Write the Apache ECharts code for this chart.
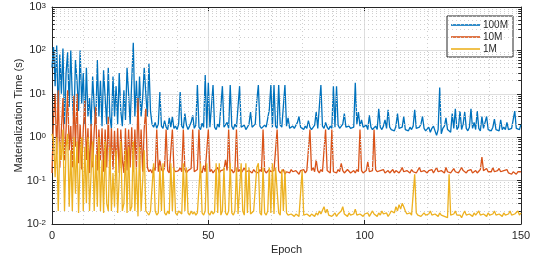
<!DOCTYPE html>
<html>
<head>
  <meta charset="utf-8">
  <title>Materialization Time</title>
  <style>
    html, body { margin: 0; padding: 0; background: #fff; }
    #chart { width: 536px; height: 261px; }
  </style>
</head>
<body>
  <div id="chart"></div>
  <script src="https://cdn.jsdelivr.net/npm/echarts@6/dist/echarts.min.js"></script>
  <script>
    // one point every half epoch, 0 .. 150
    const step = 0.5
    const seriesNames = ['100M', '10M', '1M']
    const seriesColors = ['#0072BD', '#D95319', '#EDB120']

    const t100M = [
      40, 120, 15, 130, 3, 80, 10, 110, 2, 30, 90, 5, 100, 8, 2, 60, 20, 4, 100, 6,
      30, 2, 40, 3, 8, 1.8, 25, 5, 2, 60, 3, 20, 1.8, 35, 8, 2, 40, 3, 1.6, 25,
      3, 15, 2, 30, 4, 1.8, 12, 2.5, 40, 10, 2, 20, 150, 3, 20, 2, 25, 3, 8, 40,
      10, 3, 50, 4, 2, 1.7, 2.2, 1.6, 2, 11, 1.8, 1.6, 2.4, 1.7, 1.5, 2.8, 1.7, 3, 1.6, 1.8,
      1.5, 2, 11, 1.8, 1.6, 3.5, 1.9, 1.5, 1.8, 2.2, 3.2, 1.6, 1.9, 16, 1.7, 1.5, 2.1, 1.7, 27, 1.6,
      18, 1.7, 1.6, 16, 1.7, 1.5, 2, 1.7, 1.6, 15, 1.7, 1.6, 2.2, 1.6, 16, 1.8, 1.5, 2, 1.7, 1.6,
      15, 1.7, 1.6, 1.9, 1.5, 1.7, 2, 3.8, 1.7, 1.6, 2, 7, 16, 1.8, 1.6, 1.5, 1.9, 1.7, 1.6, 4.3,
      16, 1.7, 16, 1.8, 1.6, 16, 1.9, 1.7, 1.6, 16, 1.8, 2.8, 1.6, 1.5, 1.8, 1.6, 1.5, 2.2, 3, 1.7,
      1.6, 1.5, 1.8, 1.6, 2.4, 1.7, 1.5, 1.6, 1.9, 3.8, 1.6, 1.7, 16, 1.8, 1.6, 2.2, 1.7, 1.5, 1.8, 1.6,
      15, 1.7, 15, 1.9, 1.6, 1.7, 2, 3.5, 1.7, 1.6, 1.8, 1.6, 1.5, 1.7, 18, 2, 3.8, 1.8, 2.5, 1.7,
      1.6, 1.9, 1.5, 3.2, 1.7, 1.5, 1.6, 1.8, 1.5, 4.5, 1.7, 1.5, 1.8, 2.5, 1.6, 4.3, 1.7, 1.5, 1.6, 1.4,
      1.8, 3.5, 1.6, 1.5, 1.7, 3, 1.5, 1.6, 1.4, 1.7, 1.5, 1.8, 4.3, 1.6, 1.5, 1.7, 2, 3, 1.6, 1.4,
      1.5, 1.7, 1.3, 1.6, 1.8, 1.4, 1.1, 1.5, 14, 1.2, 1.6, 1.8, 2.8, 1.5, 1.6, 1.3, 3.5, 1.6, 4.5, 1.5,
      1.7, 4, 1.5, 2, 3.8, 1.6, 1.4, 1.7, 4.5, 1.6, 2.2, 1.5, 4, 1.6, 1.4, 3, 1.6, 1.7, 3, 1.5,
      1.6, 1.4, 1.7, 2.6, 1.5, 1.6, 1.4, 2.5, 1.5, 1.7, 1.5, 2.2, 1.5, 1.4, 1.6, 1.5, 4, 1.6, 1.7, 1.5,
      2
    ]

    const t10M = [
      0.15, 3, 10, 0.4, 12, 0.2, 1.5, 8, 0.3, 1.5, 12, 0.5, 1.8, 0.2, 9, 0.6, 10, 0.25, 2, 0.18,
      1.5, 7, 0.3, 1.6, 0.15, 2, 0.2, 1.4, 5, 0.17, 1.5, 0.3, 1.6, 0.16, 1.5, 0.2, 3, 0.15, 1.6, 0.18,
      1.4, 0.2, 1.6, 0.15, 1.5, 0.3, 0.15, 1.6, 0.17, 1.5, 0.2, 1.7, 0.16, 1.5, 0.18, 8, 0.2, 1.5, 0.16, 1.6,
      4.5, 0.2, 0.16, 0.18, 0.15, 0.2, 0.17, 1.5, 0.16, 0.3, 0.18, 0.16, 0.2, 1.5, 0.17, 0.15, 0.16, 1.5, 0.18, 0.16,
      0.15, 0.17, 0.2, 0.16, 1.5, 0.18, 0.15, 0.17, 0.16, 0.19, 1.5, 0.16, 0.15, 0.18, 1.5, 0.17, 0.15, 0.22, 0.16, 0.15,
      1.5, 0.16, 0.18, 0.15, 0.17, 0.16, 0.2, 0.15, 0.17, 0.16, 0.18, 0.3, 0.17, 1.5, 0.16, 0.18, 0.15, 0.17, 1.5, 0.16,
      0.18, 0.15, 0.17, 0.2, 0.16, 0.15, 0.17, 0.16, 0.15, 0.18, 0.16, 0.17, 0.15, 0.18, 0.16, 1.5, 0.17, 0.15, 0.16, 0.18,
      0.16, 0.15, 0.17, 0.16, 1.5, 0.17, 0.15, 0.16, 0.18, 0.14, 0.16, 0.17, 0.15, 0.18, 0.16, 0.15, 0.17, 0.16, 0.14, 0.17,
      0.16, 0.18, 0.15, 0.17, 0.16, 1.5, 0.17, 0.2, 0.16, 0.3, 0.17, 0.15, 0.18, 0.16, 0.15, 1.5, 0.17, 0.16, 0.15, 1.5,
      0.16, 0.17, 0.15, 0.18, 0.16, 0.25, 0.17, 0.15, 0.16, 0.18, 0.17, 0.15, 0.16, 0.17, 0.15, 0.18, 0.16, 1.5, 0.17, 0.15,
      0.16, 0.17, 0.27, 0.16, 0.15, 0.17, 1.5, 0.18, 0.16, 0.15, 0.17, 0.16, 0.18, 0.15, 0.16, 0.17, 0.15, 0.16, 0.18, 0.15,
      0.17, 0.16, 0.15, 0.17, 0.2, 0.16, 0.15, 0.17, 0.16, 0.15, 0.18, 0.16, 0.17, 0.15, 0.16, 0.2, 0.16, 0.15, 0.17, 0.16,
      0.15, 0.17, 0.16, 0.18, 0.15, 0.16, 0.2, 0.16, 0.15, 0.17, 0.16, 0.15, 0.2, 0.16, 0.17, 0.15, 0.16, 0.19, 0.16, 0.17,
      0.15, 0.16, 0.2, 0.17, 0.16, 0.15, 0.17, 0.16, 0.18, 0.15, 0.16, 0.17, 0.15, 0.16, 0.18, 0.35, 0.17, 0.16, 0.19, 0.16,
      0.17, 0.16, 0.2, 0.16, 0.15, 0.17, 0.19, 0.16, 0.15, 0.17, 0.16, 0.18, 0.15, 0.16, 0.14, 0.16, 0.15, 0.14, 0.16, 0.15,
      0.16
    ]

    const t1M = [
      1.2, 0.8, 0.12, 1, 0.02, 0.8, 0.3, 1.5, 0.02, 0.6, 1.2, 0.025, 0.5, 0.02, 1, 0.05, 0.8, 0.018, 0.3, 1,
      0.02, 0.6, 0.03, 1, 0.02, 0.15, 0.8, 0.02, 0.4, 0.025, 1, 0.02, 0.3, 0.018, 0.8, 0.03, 0.02, 0.6, 0.02, 0.15,
      0.025, 0.5, 0.018, 0.02, 0.8, 0.02, 0.03, 0.5, 0.018, 0.6, 0.02, 0.025, 0.8, 0.02, 0.2, 0.015, 0.6, 0.02, 0.018, 0.5,
      0.02, 0.018, 0.016, 0.02, 0.018, 0.25, 0.02, 0.016, 0.018, 0.22, 0.02, 0.25, 0.018, 0.016, 0.02, 0.017, 0.25, 0.02, 0.2, 0.018,
      0.016, 0.02, 0.018, 0.017, 0.25, 0.02, 0.2, 0.018, 0.016, 0.02, 0.017, 0.019, 0.016, 0.018, 0.02, 0.25, 0.018, 0.016, 0.02, 0.25,
      0.018, 0.016, 0.02, 0.017, 0.019, 0.25, 0.018, 0.25, 0.016, 0.02, 0.2, 0.018, 0.016, 0.02, 0.25, 0.018, 0.016, 0.02, 0.2, 0.017,
      0.018, 0.25, 0.02, 0.016, 0.25, 0.018, 0.2, 0.017, 0.016, 0.02, 0.018, 0.2, 0.25, 0.018, 0.016, 0.2, 0.018, 0.016, 0.02, 0.2,
      0.018, 0.25, 0.017, 0.2, 0.22, 0.018, 0.016, 0.18, 0.02, 0.17, 0.018, 0.016, 0.015, 0.017, 0.016, 0.015, 0.017, 0.016, 0.015, 0.016,
      0.17, 0.016, 0.015, 0.017, 0.016, 0.015, 0.017, 0.016, 0.015, 0.018, 0.016, 0.02, 0.017, 0.016, 0.025, 0.018, 0.022, 0.016, 0.017, 0.015,
      0.016, 0.018, 0.015, 0.017, 0.016, 0.02, 0.025, 0.017, 0.016, 0.015, 0.018, 0.016, 0.015, 0.017, 0.022, 0.016, 0.015, 0.017, 0.016, 0.015,
      0.017, 0.016, 0.018, 0.015, 0.016, 0.02, 0.017, 0.016, 0.015, 0.018, 0.016, 0.02, 0.017, 0.016, 0.018, 0.015, 0.017, 0.02, 0.022, 0.018,
      0.025, 0.02, 0.028, 0.022, 0.03, 0.025, 0.02, 0.017, 0.016, 0.018, 0.016, 0.017, 0.14, 0.018, 0.016, 0.017, 0.015, 0.016, 0.018, 0.016,
      0.015, 0.017, 0.02, 0.016, 0.015, 0.017, 0.016, 0.015, 0.018, 0.016, 0.017, 0.015, 0.016, 0.014, 0.14, 0.016, 0.015, 0.017, 0.02, 0.016,
      0.015, 0.016, 0.014, 0.017, 0.02, 0.016, 0.015, 0.017, 0.016, 0.015, 0.018, 0.016, 0.015, 0.02, 0.016, 0.015, 0.017, 0.016, 0.015, 0.018,
      0.016, 0.015, 0.017, 0.02, 0.016, 0.015, 0.017, 0.016, 0.015, 0.018, 0.016, 0.015, 0.017, 0.02, 0.016, 0.015, 0.017, 0.016, 0.02, 0.016,
      0.018
    ]

    const allValues = [t100M, t10M, t1M]
    const font = 'Liberation Sans, Arial, Helvetica, sans-serif'
    const ink = '#262626'

    // minor log grid lines at 2..9 x 10^k, plus short ticks on both y edges
    let minorVals = []
    for (let k = -2; k <= 2; k++) {
      for (let m = 2; m <= 9; m++) minorVals.push(+(m * Math.pow(10, k)).toPrecision(3))
    }
    let minorGrid = minorVals.map(v => ({ yAxis: v }))
    let minorTicks = []
    minorVals.forEach(v => {
      minorTicks.push([{ coord: [0, v] }, { coord: [0.9, v] }])
      minorTicks.push([{ coord: [149.1, v] }, { coord: [150, v] }])
    })

    let chart = echarts.init(document.getElementById('chart'), null, { renderer: 'canvas' })

    let series = allValues.map((vals, i) => ({
      name: seriesNames[i],
      type: 'line',
      showSymbol: false,
      symbol: 'none',
      lineStyle: { color: seriesColors[i], width: 1.3 },
      itemStyle: { color: seriesColors[i] },
      data: vals.map((v, j) => [j * step, v]),
      z: 3 + i,
    }))

    // grid decorations hung on empty series
    series.unshift({
      name: 'grid',
      type: 'line',
      data: [],
      silent: true,
      z: 1,
      markLine: {
        silent: true,
        symbol: 'none',
        label: { show: false },
        animation: false,
        lineStyle: { color: '#cfcfcf', type: [1, 3], width: 1 },
        data: minorGrid,
      },
    })
    series.push({
      name: 'ticks',
      type: 'line',
      data: [],
      silent: true,
      z: 10,
      markLine: {
        silent: true,
        symbol: 'none',
        label: { show: false },
        animation: false,
        lineStyle: { color: ink, type: 'solid', width: 1 },
        data: minorTicks,
      },
    })

    let supLabel = (v) => {
      let e = Math.round(Math.log10(v))
      return '{b|10}{s|' + e + '}'
    }

    let option = {
      animation: false,
      textStyle: { fontFamily: font },
      grid: { left: 52, right: 15, top: 7, bottom: 37, show: false, containLabel: false, outerBoundsMode: 'none' },
      legend: {
        data: seriesNames,
        orient: 'vertical',
        left: 447,
        top: 16,
        icon: 'rect',
        itemWidth: 29,
        itemHeight: 1.6,
        itemGap: 2,
        padding: [4, 5, 3, 4],
        backgroundColor: '#fff',
        borderColor: ink,
        borderWidth: 1,
        textStyle: { fontSize: 10, color: ink, fontFamily: font, padding: [0, 0, 0, -2] },
      },
      xAxis: [
        {
          type: 'value',
          min: 0,
          max: 150,
          interval: 50,
          name: 'Epoch',
          nameLocation: 'middle',
          nameGap: 20,
          nameMoveOverlap: false,
          nameTextStyle: { fontSize: 11, color: ink },
          axisLine: { show: true, onZero: false, lineStyle: { color: ink, width: 1 } },
          axisTick: { show: true, inside: true, length: 4, lineStyle: { color: ink } },
          axisLabel: { fontSize: 11, color: ink, margin: 6 },
          splitLine: { show: true, lineStyle: { color: '#dedede', width: 1 } },
          minorTick: { show: false, splitNumber: 5 },
          minorSplitLine: { show: true, lineStyle: { color: '#cfcfcf', type: [1, 3], width: 1 } },
        },
        {
          type: 'value',
          position: 'top',
          min: 0,
          max: 150,
          interval: 50,
          axisLine: { show: true, onZero: false, lineStyle: { color: ink, width: 1 } },
          axisTick: { show: true, inside: true, length: 4, lineStyle: { color: ink } },
          axisLabel: { show: false },
          splitLine: { show: false },
        },
      ],
      yAxis: [
        {
          type: 'log',
          logBase: 10,
          min: 0.01,
          max: 1000,
          name: 'Materialization Time (s)',
          nameLocation: 'middle',
          nameGap: 28,
          nameMoveOverlap: false,
          nameTextStyle: { fontSize: 11, color: ink },
          axisLine: { show: true, onZero: false, lineStyle: { color: ink, width: 1 } },
          axisTick: { show: true, inside: true, length: 4, lineStyle: { color: ink } },
          axisLabel: {
            color: ink,
            margin: 6,
            align: 'right',
            formatter: supLabel,
            rich: {
              b: { fontSize: 11, color: ink, fontFamily: font },
              s: { fontSize: 8, color: ink, fontFamily: font, verticalAlign: 'top' },
            },
          },
          splitLine: { show: true, lineStyle: { color: '#dedede', width: 1 } },
        },
        {
          type: 'log',
          logBase: 10,
          min: 0.01,
          max: 1000,
          position: 'right',
          axisLine: { show: true, onZero: false, lineStyle: { color: ink, width: 1 } },
          axisTick: { show: true, inside: true, length: 4, lineStyle: { color: ink } },
          axisLabel: { show: false },
          splitLine: { show: false },
        },
      ],
      series: series,
    }

    chart.setOption(option)
  </script>
</body>
</html>
